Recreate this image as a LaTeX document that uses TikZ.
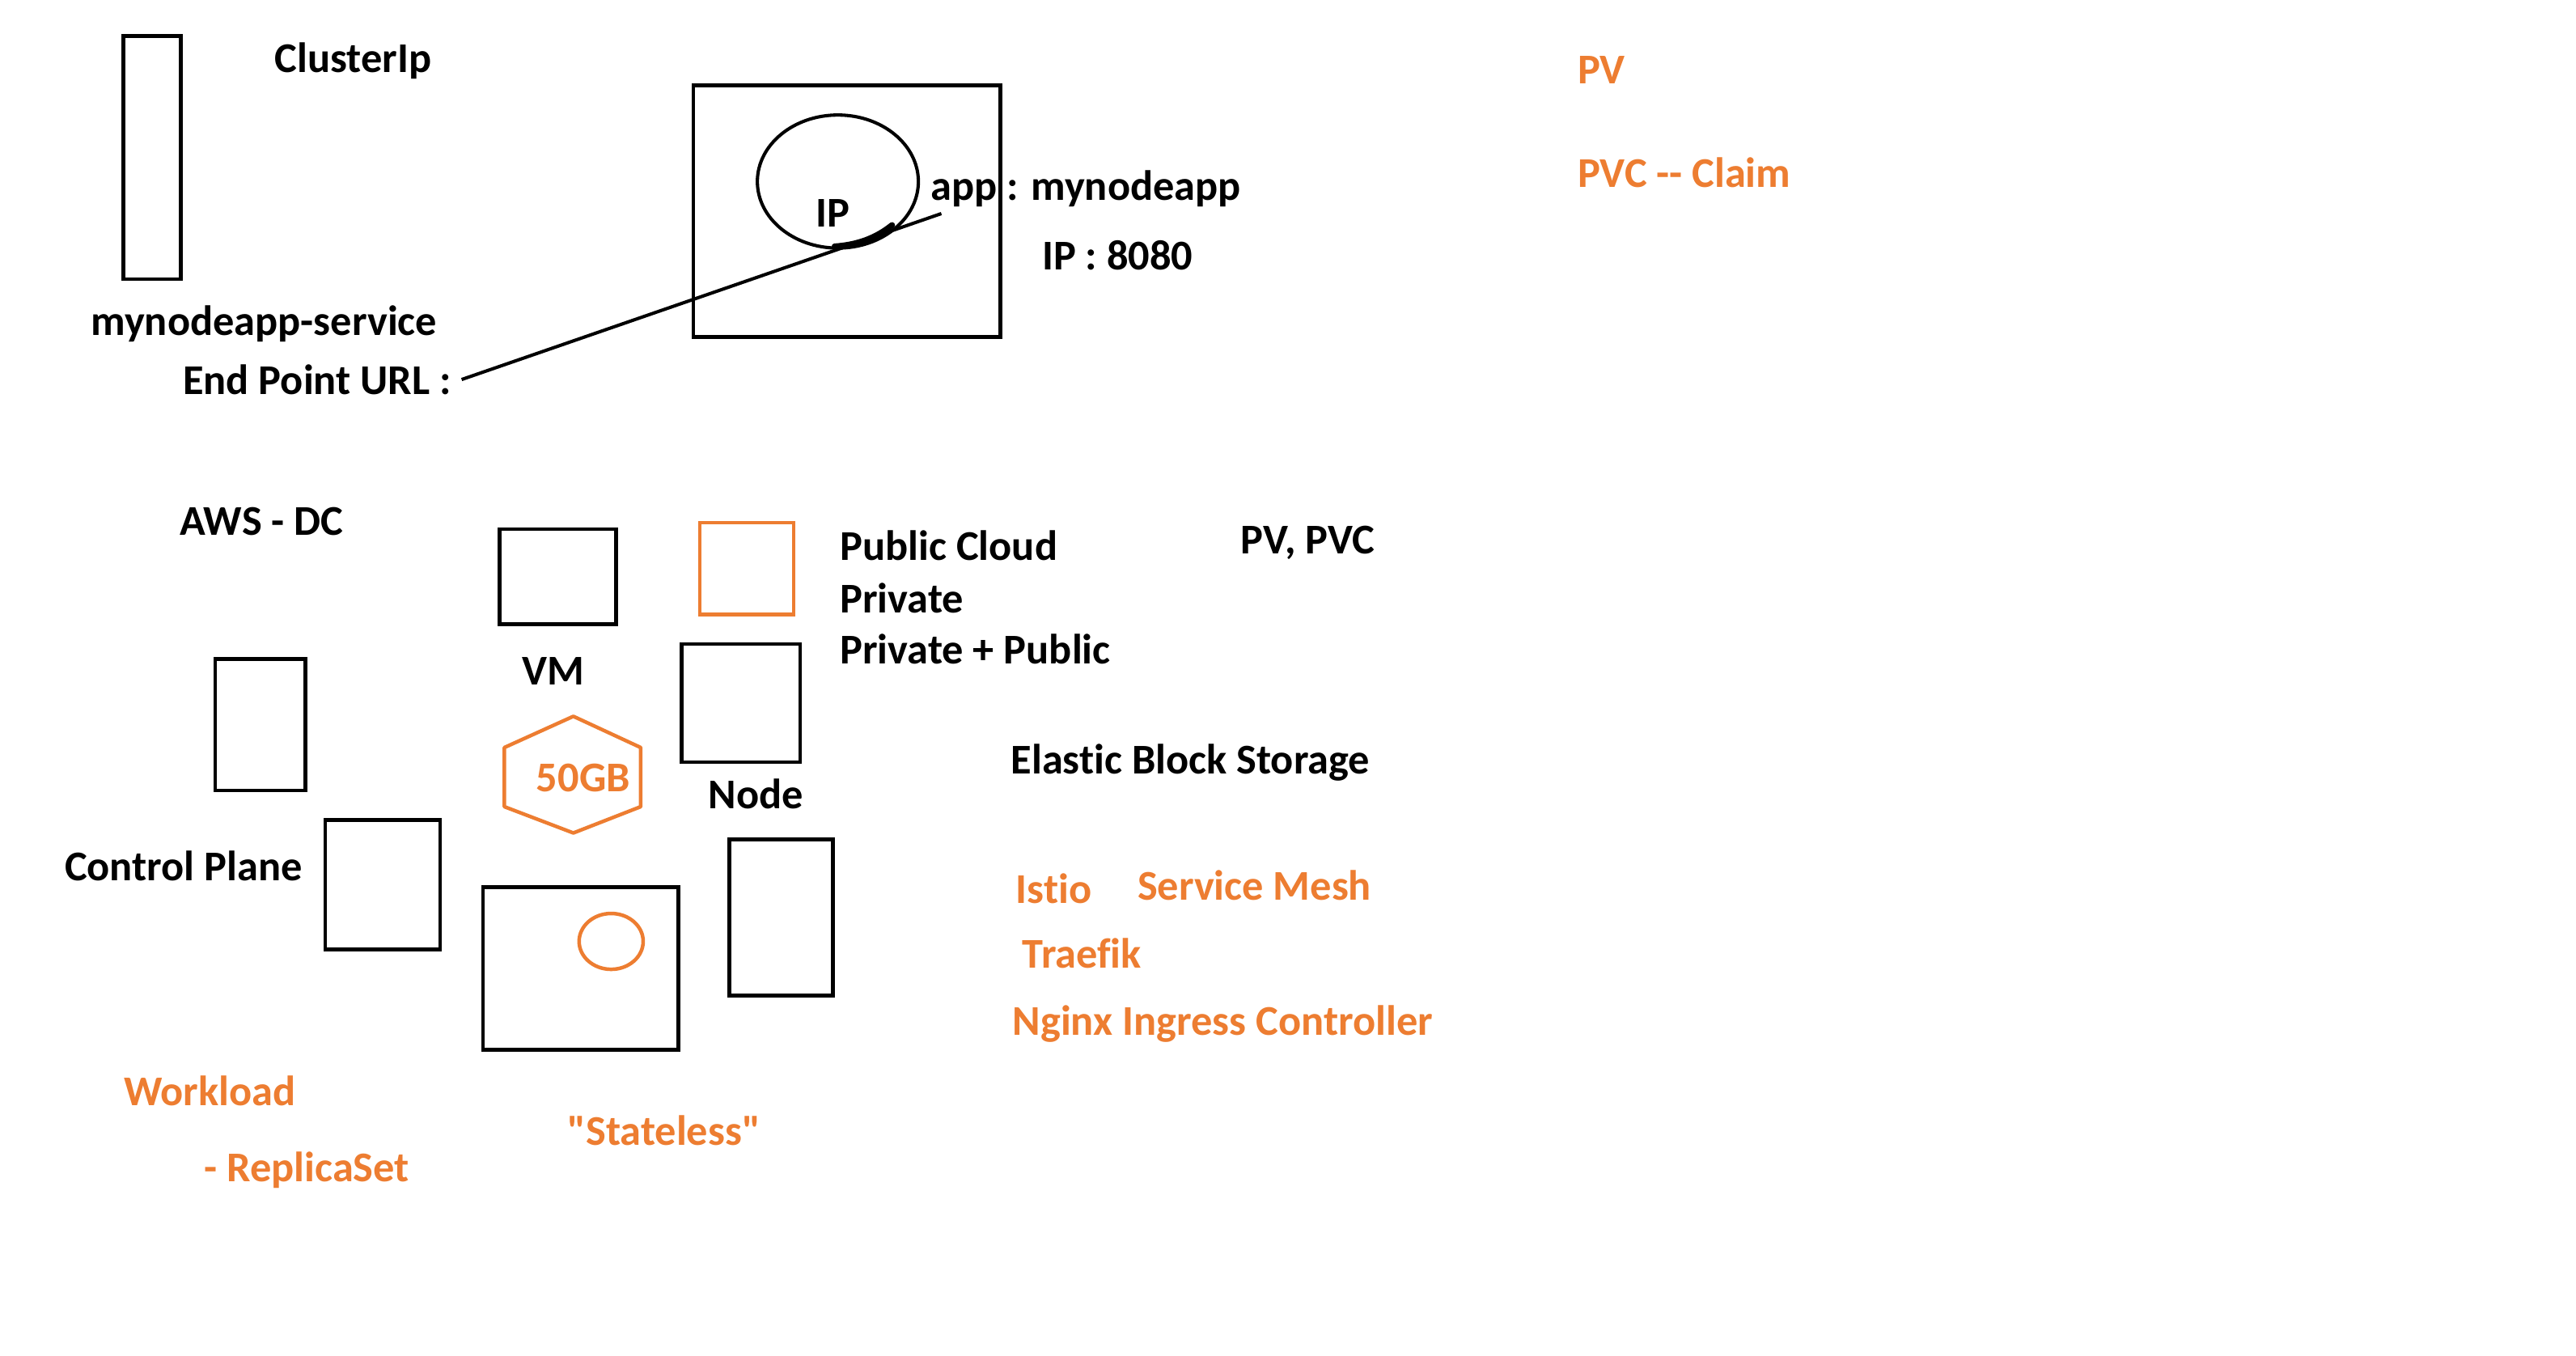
\documentclass[tikz,border=0pt]{standalone}
\usepackage{fontspec}
\setmainfont{Carlito}[Ligatures=NoCommon]
\usetikzlibrary{shapes.geometric}
\definecolor{korange}{HTML}{ED7D31}
\tikzset{
  box/.style={draw=black, line width=1.1pt},
  obox/.style={draw=korange, line width=1.1pt},
  lbl/.style={inner sep=0pt, anchor=west, font=\bfseries\fontsize{12.9}{15}\selectfont, text height=0.86em, text depth=0.06em},
  clbl/.style={lbl, anchor=center},
  olbl/.style={lbl, text=korange},
}
\begin{document}
\begin{tikzpicture}[x=0.5pt, y=-0.5pt]
\useasboundingbox[fill=white] (0,0) rectangle (1568,825);
% top section
\draw[box] (75,22) rectangle (110,170);
\node[lbl] (clusterip) at (167,36) {ClusterIp};
\draw[box] (422,52) rectangle (609,205);
\node[draw=black, line width=1pt, ellipse, minimum width=49pt, minimum height=40.5pt, inner sep=0pt] (ipell) at (510,110.5) {};
\node[clbl] (iptext) at (507,130) {IP};
\node[lbl] (app) at (566,114) {app : mynodeapp};
\node[lbl] (port) at (634,156) {IP : 8080};
\node[lbl] (svc) at (55,196) {mynodeapp-service};
\node[lbl] (ep) at (111,232) {End Point URL :};
\coordinate (lstart) at (281,231);
\coordinate (lend) at (573,130);
\draw[line width=1pt] (lstart) -- (lend);
\draw[line width=1.8pt, line cap=round] (508,150) .. controls (522,149) and (533,145) .. (543,137);
% middle
\node[lbl] (aws) at (109,318) {AWS - DC};
\draw[box] (304,322) rectangle (375,380);
\node[clbl] (vm) at (337,409) {VM};
\draw[obox] (426,318) rectangle (483,374);
\node[lbl] (pub) at (511,333) {Public Cloud};
\node[lbl] (priv) at (511,365) {Private};
\node[lbl] (privpub) at (511,396) {Private + Public};
\node[lbl] (pvpvc) at (755,329) {PV, PVC};
\draw[box] (415,392) rectangle (487,464);
\node[clbl] (node) at (460,484) {Node};
\draw[box] (131,401) rectangle (186,481);
\draw[obox, line join=round] (349,436) -- (390,455) -- (390,491) -- (349,507) -- (307,491) -- (307,455) -- cycle;
\node[clbl, text=korange] (gb) at (355,474) {50GB};
\node[lbl] (cp) at (39,528) {Control Plane};
\draw[box] (198,499) rectangle (268,578);
\draw[box] (294,540) rectangle (413,639);
\draw[obox] (372,573) ellipse [x radius=19.5, y radius=17];
\draw[box] (444,511) rectangle (507,606);
\node[lbl] (ebs) at (615,463) {Elastic Block Storage};
\node[olbl] (istio) at (618,542) {Istio};
\node[olbl] (mesh) at (692,540) {Service Mesh};
\node[olbl] (traefik) at (622,581) {Traefik};
\node[olbl] (nginx) at (616,622) {Nginx Ingress Controller};
\node[olbl] (workload) at (75,665) {Workload};
\node[olbl] (rs) at (124,711) {- ReplicaSet};
\node[olbl] (stateless) at (345,689) {\textquotedbl Stateless\textquotedbl};
\node[olbl] (pv) at (960,43) {PV};
\node[olbl] (pvc) at (960,106) {PVC {-}{-} Claim};
\end{tikzpicture}
\end{document}
